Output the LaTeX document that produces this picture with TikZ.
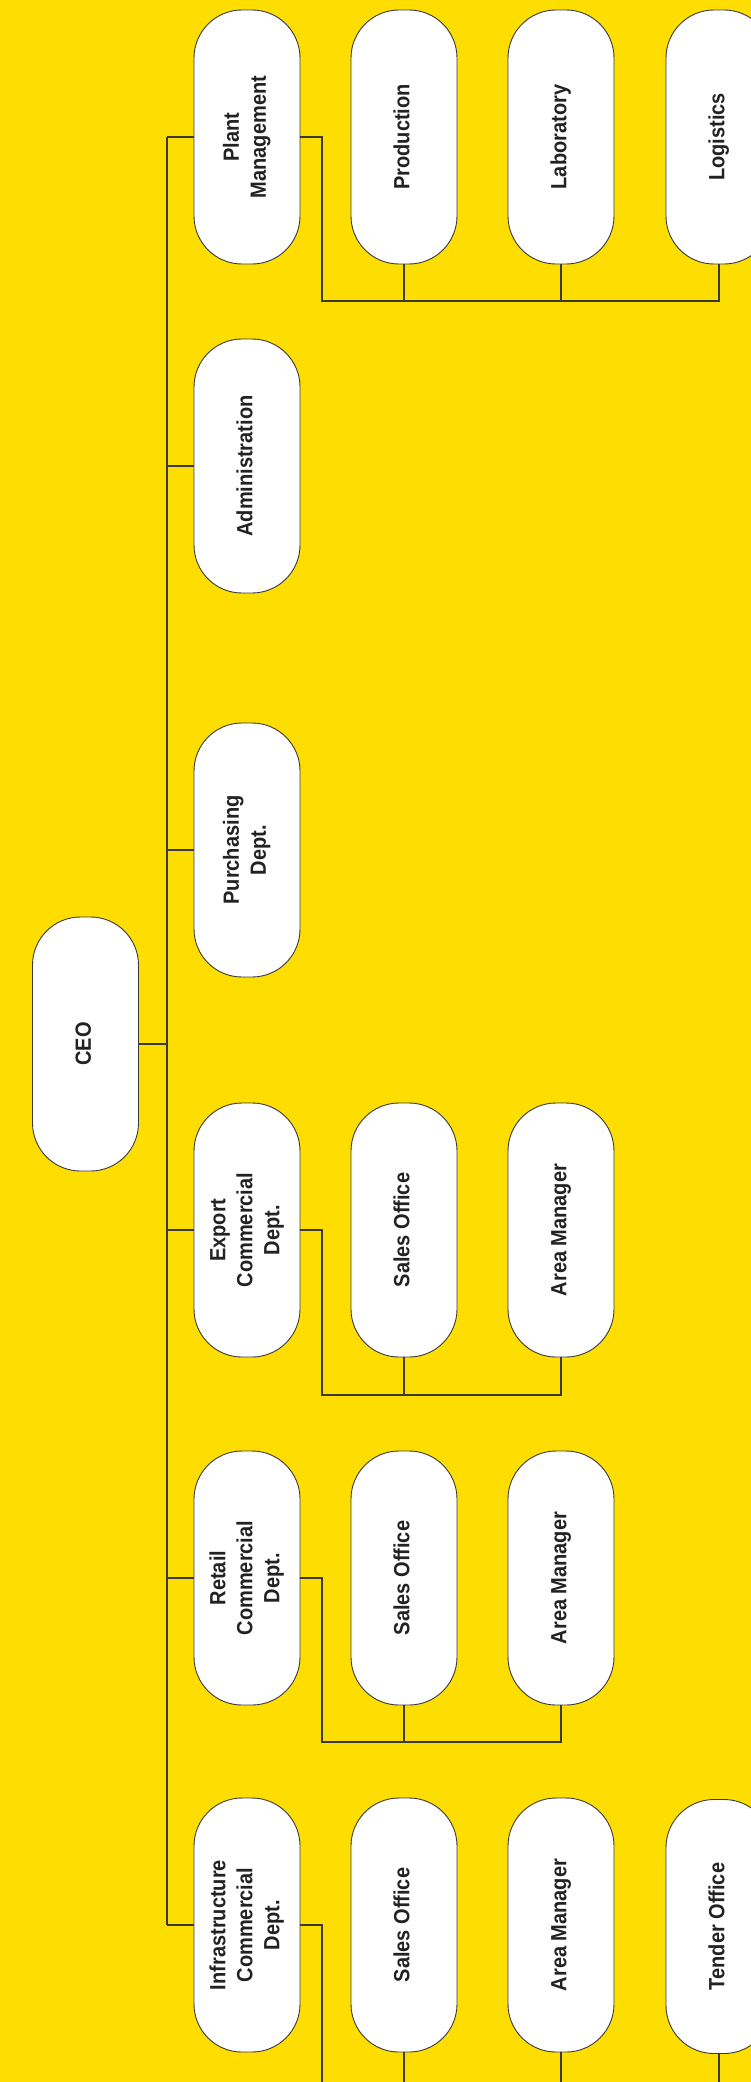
\documentclass[tikz,border=0pt]{standalone}
\usepackage{fontspec}
\setmainfont{Liberation Sans}
\usepackage{graphicx}
\definecolor{bgyellow}{HTML}{FEDD00}
\definecolor{lncol}{HTML}{3A3A3A}
\definecolor{txcol}{HTML}{222222}
\newcommand{\vtext}[1]{\rotatebox{90}{\scalebox{1}[1.1]{\begin{tabular}{@{}c@{}}#1\end{tabular}}}}
\tikzset{
  unit/.style={draw=lncol, line width=0.9pt, fill=white, rounded corners=48pt,
    minimum width=106pt, minimum height=254pt, inner sep=0pt, text=txcol,
    font=\fontsize{20}{24.5}\selectfont\bfseries},
  link/.style={draw=lncol, line width=1.1pt}
}
\begin{document}
\begin{tikzpicture}[x=1pt,y=-1pt]
\useasboundingbox (0,0) rectangle (751,2082);
\fill[bgyellow] (0,0) rectangle (751,2082);
\clip (0,0) rectangle (751,2082);
% nodes
\node[unit] (ceo) at (85.5,1044) {\vtext{CEO}};
\node[unit] (pm) at (247,137) {\vtext{Plant\\Management}};
\node[unit] (prod) at (404,137) {\vtext{Production}};
\node[unit] (lab) at (561,137) {\vtext{Laboratory}};
\node[unit] (log) at (719,137) {\vtext{Logistics}};
\node[unit] (adm) at (247,466) {\vtext{Administration}};
\node[unit] (pur) at (247,850) {\vtext{Purchasing\\Dept.}};
\node[unit] (exp) at (247,1230) {\vtext{Export\\Commercial\\Dept.}};
\node[unit] (exps) at (404,1230) {\vtext{Sales Office}};
\node[unit] (expa) at (561,1230) {\vtext{Area Manager}};
\node[unit] (ret) at (247,1578) {\vtext{Retail\\Commercial\\Dept.}};
\node[unit] (rets) at (404,1578) {\vtext{Sales Office}};
\node[unit] (reta) at (561,1578) {\vtext{Area Manager}};
\node[unit] (inf) at (247,1925) {\vtext{Infrastructure\\Commercial\\Dept.}};
\node[unit] (infs) at (404,1925) {\vtext{Sales Office}};
\node[unit] (infa) at (561,1925) {\vtext{Area Manager}};
\node[unit] (inft) at (719,1926.5) {\vtext{Tender Office}};
% helper coordinates
\coordinate (trunk) at (167,0);
\coordinate (pmbus) at (322,301);
\coordinate (expbus) at (322,1395);
\coordinate (retbus) at (322,1742);
\coordinate (infbus) at (322,2090);
% trunk
\draw[link] (ceo.east) -- (ceo.east -| trunk);
\draw[link] (pm.west -| trunk) -- (inf.west -| trunk);
\foreach \d in {pm,adm,pur,exp,ret,inf}{
  \draw[link] (\d.west) -- (\d.west -| trunk);
}
% plant management children
\draw[link] (pm.east) -- (pm.east -| pmbus) -- (pmbus) -- (pmbus -| log.south) -- (log.south);
\draw[link] (prod.south) -- (prod.south |- pmbus);
\draw[link] (lab.south) -- (lab.south |- pmbus);
% export children
\draw[link] (exp.east) -- (exp.east -| expbus) -- (expbus) -- (expbus -| expa.south) -- (expa.south);
\draw[link] (exps.south) -- (exps.south |- expbus);
% retail children
\draw[link] (ret.east) -- (ret.east -| retbus) -- (retbus) -- (retbus -| reta.south) -- (reta.south);
\draw[link] (rets.south) -- (rets.south |- retbus);
% infrastructure children
\draw[link] (inf.east) -- (inf.east -| infbus) -- (infbus) -- (infbus -| inft.south) -- (inft.south);
\draw[link] (infs.south) -- (infs.south |- infbus);
\draw[link] (infa.south) -- (infa.south |- infbus);
\end{tikzpicture}
\end{document}
